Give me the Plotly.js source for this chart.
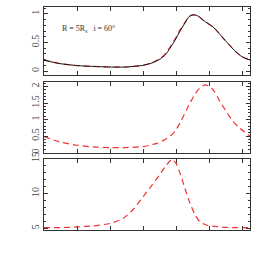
<!DOCTYPE html>
<html><head><meta charset="utf-8">
<script src="https://cdn.plot.ly/plotly-3.0.1.min.js"></script>
<style>html,body{margin:0;padding:0;background:#fff}#c{width:269px;height:257px}</style>
</head><body><div id="c"></div>
<script>
// Panel 1: normalized profile (black solid) and red dashed overlay
const x1 = [0, 0.48, 1.0, 1.48, 2.0, 2.48, 3.0, 3.27, 3.52, 3.67, 3.82, 3.97, 4.12, 4.27, 4.39, 4.48, 4.58, 4.70, 4.82, 4.97, 5.12, 5.27, 5.45, 5.64, 5.82, 6.0, 6.24];
const y1black = [0.19, 0.13, 0.095, 0.08, 0.07, 0.07, 0.10, 0.14, 0.21, 0.28, 0.40, 0.54, 0.70, 0.84, 0.95, 0.98, 0.98, 0.95, 0.89, 0.83, 0.77, 0.68, 0.56, 0.44, 0.33, 0.25, 0.19];
const y1red   = [0.19, 0.13, 0.095, 0.08, 0.07, 0.07, 0.10, 0.145, 0.22, 0.30, 0.42, 0.56, 0.72, 0.85, 0.95, 0.98, 0.98, 0.95, 0.89, 0.83, 0.77, 0.68, 0.56, 0.44, 0.33, 0.25, 0.19];
// Panel 2
const x2 = [0, 0.48, 1.0, 1.48, 2.0, 2.48, 3.0, 3.36, 3.61, 3.82, 3.97, 4.12, 4.27, 4.42, 4.58, 4.73, 4.88, 5.03, 5.18, 5.33, 5.55, 5.73, 5.94, 6.24];
const y2 = [0.48, 0.32, 0.22, 0.17, 0.15, 0.15, 0.18, 0.26, 0.36, 0.50, 0.64, 0.90, 1.20, 1.50, 1.78, 1.97, 2.05, 2.00, 1.82, 1.55, 1.20, 0.94, 0.73, 0.50];
// Panel 3
const x3 = [0, 0.48, 1.0, 1.48, 2.0, 2.39, 2.70, 3.0, 3.27, 3.52, 3.70, 3.88, 4.0, 4.12, 4.27, 4.42, 4.58, 4.73, 4.97, 5.24, 5.64, 6.24];
const y3 = [5.1, 5.1, 5.2, 5.35, 5.7, 6.4, 7.7, 9.5, 11.2, 12.8, 14.0, 14.9, 14.3, 12.9, 10.7, 8.6, 6.9, 5.9, 5.4, 5.25, 5.1, 5.1];

const labelText = 'R = 5R<sub>s</sub>   i = 60°';

const frame = '#333';
const tickFont = {family: 'Liberation Serif, serif', size: 10, color: '#444'};
function xax(anchor) {
  return {range: [0, 6.24], dtick: 1, tick0: 0, ticks: 'inside', ticklen: 4, tickcolor: frame,
    showticklabels: false, showgrid: false, zeroline: false, showline: true, linecolor: frame,
    linewidth: 1, mirror: 'allticks', anchor: anchor};
}
function yax(range, dtick, minor, domain, anchor) {
  return {range: range, dtick: dtick, tick0: 0, ticks: 'inside', ticklen: 4, tickcolor: frame,
    minor: {dtick: minor, ticklen: 2, tickcolor: frame, ticks: 'inside'},
    tickangle: -90, tickfont: tickFont, showgrid: false, zeroline: false, showline: true,
    linecolor: frame, linewidth: 1, mirror: 'allticks', domain: domain, anchor: anchor};
}
const red = 'rgb(240,50,50)';
const data = [
  {x: x1, y: y1red, xaxis: 'x', yaxis: 'y', mode: 'lines', line: {color: red, width: 1.2, dash: '6px,4px'}},
  {x: x1, y: y1black, xaxis: 'x', yaxis: 'y', mode: 'lines', line: {color: '#111', width: 1}},
  {x: x2, y: y2, xaxis: 'x2', yaxis: 'y2', mode: 'lines', line: {color: red, width: 1.2, dash: '6px,4px'}},
  {x: x3, y: y3, xaxis: 'x3', yaxis: 'y3', mode: 'lines', line: {color: red, width: 1.2, dash: '6px,4px'}}
];
data.forEach(d => { d.line.shape = 'spline'; d.line.smoothing = 0.6; });
const layout = {
  width: 269, height: 257, showlegend: false,
  paper_bgcolor: '#fff', plot_bgcolor: '#fff',
  margin: {l: 44, r: 19, t: 7, b: 27, pad: 0},
  xaxis: xax('y'), xaxis2: xax('y2'), xaxis3: xax('y3'),
  yaxis: yax([-0.07, 1.12], 0.5, 0.1, [0.695, 1], 'x'),
  yaxis2: yax([0, 2.14], 0.5, 0.1, [0.3475, 0.6637], 'x2'),
  yaxis3: yax([4.76, 15.0], 5, 1, [0, 0.3206], 'x3'),
  annotations: [{text: labelText, xref: 'paper', yref: 'paper', x: 0.078, y: 0.9, xanchor: 'left', yanchor: 'middle',
    showarrow: false, font: {family: 'Liberation Serif, serif', size: 8, color: '#333'}}]
};
Plotly.newPlot('c', data, layout, {staticPlot: true, displayModeBar: false});
</script></body></html>
